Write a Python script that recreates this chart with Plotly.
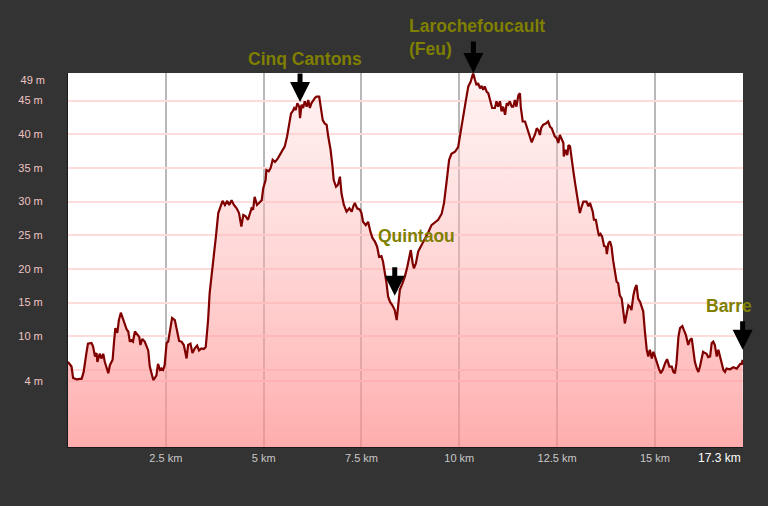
import plotly.graph_objects as go

dist_km = [0.00, 0.09, 0.13, 0.22, 0.35, 0.40, 0.47, 0.51, 0.60, 0.64, 0.69, 0.73, 0.75, 0.81, 0.86, 0.90, 0.94,
           1.03, 1.07, 1.14, 1.18, 1.21, 1.26, 1.30, 1.35, 1.41, 1.45, 1.50, 1.54, 1.58, 1.62, 1.66, 1.71, 1.77,
           1.82, 1.85, 1.90, 1.96, 2.01, 2.05, 2.09, 2.13, 2.18, 2.22, 2.26, 2.30, 2.35, 2.39, 2.43, 2.47, 2.52,
           2.56, 2.60, 2.66, 2.73, 2.79, 2.84, 2.90, 2.96, 3.03, 3.07, 3.13, 3.18, 3.24, 3.30, 3.35, 3.41, 3.47,
           3.52, 3.58, 3.62, 3.78, 3.84, 3.90, 3.95, 4.01, 4.07, 4.12, 4.18, 4.24, 4.31, 4.37, 4.43, 4.48, 4.54,
           4.60, 4.65, 4.69, 4.73, 4.77, 4.83, 4.88, 4.95, 4.99, 5.05, 5.07, 5.13, 5.18, 5.23, 5.29, 5.35, 5.41,
           5.48, 5.54, 5.60, 5.65, 5.70, 5.74, 5.78, 5.82, 5.86, 5.91, 5.93, 5.97, 6.01, 6.05, 6.10, 6.14, 6.18,
           6.22, 6.27, 6.31, 6.35, 6.42, 6.45, 6.51, 6.56, 6.61, 6.65, 6.71, 6.76, 6.79, 6.85, 6.90, 6.95, 6.99,
           7.05, 7.12, 7.19, 7.25, 7.29, 7.33, 7.39, 7.46, 7.50, 7.54, 7.61, 7.67, 7.73, 7.78, 7.84, 7.90, 7.95,
           8.01, 8.05, 8.10, 8.14, 8.18, 8.23, 8.29, 8.35, 8.40, 8.44, 8.48, 8.55, 8.61, 8.67, 8.72, 8.76, 8.81,
           8.84, 8.89, 8.95, 9.04, 9.12, 9.21, 9.29, 9.38, 9.46, 9.55, 9.61, 9.68, 9.74, 9.80, 9.89, 9.97, 10.03,
           10.10, 10.17, 10.23, 10.29, 10.34, 10.36, 10.40, 10.44, 10.48, 10.53, 10.57, 10.61, 10.65, 10.70,
           10.74, 10.78, 10.84, 10.91, 10.95, 10.99, 11.04, 11.08, 11.12, 11.17, 11.21, 11.25, 11.29, 11.34,
           11.38, 11.42, 11.46, 11.51, 11.55, 11.57, 11.62, 11.68, 11.72, 11.76, 11.81, 11.85, 11.89, 11.93,
           11.98, 12.02, 12.06, 12.09, 12.14, 12.21, 12.27, 12.32, 12.36, 12.40, 12.44, 12.49, 12.53, 12.57,
           12.61, 12.66, 12.67, 12.72, 12.76, 12.79, 12.83, 12.87, 12.91, 12.96, 13.00, 13.04, 13.08, 13.13,
           13.17, 13.25, 13.30, 13.34, 13.41, 13.44, 13.49, 13.53, 13.57, 13.61, 13.65, 13.70, 13.75, 13.77,
           13.81, 13.85, 13.89, 13.93, 13.98, 14.02, 14.06, 14.10, 14.15, 14.19, 14.23, 14.28, 14.32, 14.36,
           14.40, 14.45, 14.49, 14.53, 14.57, 14.62, 14.66, 14.70, 14.74, 14.79, 14.83, 14.87, 14.92, 14.96,
           15.00, 15.05, 15.10, 15.15, 15.20, 15.26, 15.31, 15.37, 15.43, 15.47, 15.51, 15.55, 15.60, 15.64,
           15.70, 15.74, 15.79, 15.85, 15.89, 15.94, 15.98, 16.02, 16.07, 16.11, 16.15, 16.19, 16.23, 16.28,
           16.32, 16.36, 16.41, 16.45, 16.49, 16.53, 16.58, 16.62, 16.66, 16.71, 16.75, 16.79, 16.83, 16.92,
           17.00, 17.09, 17.13, 17.18, 17.22, 17.24]

elev_m = [6.2, 5.5, 3.8, 3.6, 3.7, 4.7, 7.5, 8.9, 9.0, 8.5, 7.0, 7.5, 6.2, 7.4, 6.7, 7.4, 6.2,
          4.5, 5.7, 6.5, 9.4, 11.2, 10.5, 12.4, 13.5, 12.5, 11.9, 11.0, 10.7, 9.2, 9.4, 9.2, 10.7, 10.3,
          9.9, 8.7, 9.6, 9.2, 8.5, 7.9, 5.5, 4.6, 3.5, 3.8, 4.2, 5.9, 5.0, 5.2, 5.0, 5.7, 9.0,
          9.2, 10.8, 12.7, 12.4, 10.9, 9.3, 9.2, 8.7, 6.7, 8.7, 8.9, 7.5, 8.2, 8.6, 7.9, 8.2, 8.1,
          8.4, 12.4, 16.4, 24.8, 28.3, 29.3, 30.1, 29.5, 30.1, 29.5, 30.2, 29.5, 29.0, 28.3, 26.3, 28.0, 27.8,
          27.3, 28.3, 29.0, 28.8, 30.7, 29.5, 29.8, 30.2, 32.0, 33.2, 34.7, 34.5, 35.0, 36.2, 35.9, 36.3, 36.9,
          37.7, 38.2, 39.7, 41.6, 43.1, 43.4, 43.9, 43.6, 44.6, 44.1, 42.4, 44.4, 43.9, 44.9, 44.1, 45.1, 43.9,
          44.6, 45.1, 45.4, 45.6, 45.6, 44.4, 42.1, 41.6, 41.4, 39.7, 37.7, 35.2, 33.2, 32.2, 32.5, 33.7, 31.2,
          29.5, 28.5, 29.0, 28.5, 29.3, 29.8, 29.0, 28.8, 28.3, 27.0, 26.5, 27.0, 25.5, 24.6, 24.1, 23.3, 21.8,
          21.9, 21.1, 19.4, 17.9, 15.9, 15.1, 14.6, 13.9, 12.4, 14.9, 16.9, 17.9, 18.9, 20.3, 21.8, 22.8, 20.8,
          20.1, 20.8, 22.6, 23.6, 24.4, 25.5, 26.5, 27.0, 27.3, 28.2, 29.8, 33.2, 36.2, 37.1, 37.4, 38.1, 40.4,
          42.6, 45.1, 47.1, 47.8, 48.8, 49.0, 48.1, 47.3, 47.6, 46.8, 47.2, 46.6, 47.1, 46.3,
          46.1, 45.1, 43.9, 43.9, 44.9, 44.1, 44.9, 43.4, 44.1, 42.9, 44.6, 44.4, 44.9, 44.1,
          44.1, 45.1, 44.1, 45.8, 46.1, 44.1, 41.9, 41.9, 41.1, 40.6, 39.7, 38.8, 39.4, 39.9,
          40.9, 40.6, 39.9, 40.9, 41.4, 41.6, 41.9, 41.1, 40.9, 40.4, 39.7, 39.4, 38.7, 39.9,
          39.4, 38.7, 36.7, 37.7, 36.9, 38.4, 38.2, 36.2, 34.7, 32.7, 31.0, 29.8, 28.3, 29.3,
          30.0, 30.0, 29.3, 29.8, 28.5, 27.3, 27.3, 26.0, 24.9, 25.2, 24.8, 23.4, 23.3, 22.2,
          23.8, 24.1, 23.3, 21.3, 19.8, 18.1, 17.9, 16.1, 15.6, 13.9, 11.9, 13.4, 14.6, 14.4,
          13.9, 16.1, 17.1, 17.6, 15.6, 15.1, 14.2, 13.7, 10.9, 8.0, 7.0, 8.0, 6.7, 7.7,
          7.0, 6.0, 5.2, 4.5, 5.0, 6.0, 6.6, 5.5, 5.5, 4.7, 4.5, 6.0, 9.9, 11.2,
          11.5, 10.9, 10.2, 8.7, 9.4, 9.7, 8.0, 6.2, 5.2, 4.7, 5.5, 6.8, 7.7, 7.5,
          7.4, 6.9, 7.0, 9.0, 9.2, 8.7, 7.0, 8.0, 7.0, 6.2, 5.0, 4.7, 5.2, 5.1,
          5.4, 5.2, 5.5, 5.9, 5.9, 6.5]

# Axis ticks
y_tick_vals = [3.36, 5, 10, 15, 20, 25, 30, 35, 40, 45]
y_tick_text = ["4 m", "", "10 m", "15 m", "20 m", "25 m", "30 m", "35 m", "40 m", "45 m"]
y_top_val = [48.06]
y_top_text = ["49 m"]
x_tick_vals = [2.5, 5, 7.5, 10, 12.5, 15]
x_tick_text = ["2.5 km", "5 km", "7.5 km", "10 km", "12.5 km", "15 km"]
total_label = "17.3 km"

# Named points of interest (distance km, elevation m at arrow tip)
poi_names = ["Cinq Cantons", "Larochefoucault<br>(Feu)", "Quintaou", "Barre"]
poi_x = [5.93, 10.36, 8.35, 17.24]
poi_y = [44.8, 49.1, 16.0, 8.0]

X_RANGE = [0, 17.25]
Y_RANGE = [-6.45, 49.1]

fig = go.Figure()

# baseline for filling down to the axis bottom
fig.add_trace(go.Scatter(x=[X_RANGE[0], X_RANGE[1]], y=[Y_RANGE[0], Y_RANGE[0]],
                         mode="lines", line=dict(width=0), hoverinfo="skip", showlegend=False))
fig.add_trace(go.Scatter(
    x=dist_km, y=elev_m, mode="lines",
    line=dict(color="#800000", width=2.2),
    fill="tonexty",
    fillgradient=dict(type="vertical", start=Y_RANGE[0], stop=Y_RANGE[1],
                      colorscale=[[0, "rgba(255,140,140,0.72)"], [1, "rgba(255,210,210,0.3)"]]),
    showlegend=False,
))
# overlay axis carrying the top label
fig.add_trace(go.Scatter(x=[None], y=[None], yaxis="y2", showlegend=False))

label_font = dict(family="Liberation Sans, Arial, sans-serif", size=11)

fig.update_layout(
    width=768, height=506,
    margin=dict(l=68, r=25, t=73, b=59),
    paper_bgcolor="#333333",
    plot_bgcolor="#ffffff",
    xaxis=dict(range=X_RANGE, tickvals=x_tick_vals, ticktext=x_tick_text,
               showgrid=True, gridcolor="#b8b8b8", gridwidth=2, zeroline=False,
               showline=True, linecolor="#1a1a1a", linewidth=1,
               tickfont=dict(color="#c8c8c8", **label_font), ticks="", ticklabelstandoff=1),
    yaxis=dict(range=Y_RANGE, tickvals=y_tick_vals, ticktext=y_tick_text,
               showgrid=True, gridcolor="#ffdcdc", gridwidth=2, zeroline=False,
               showline=True, linecolor="#1a1a1a", linewidth=1,
               tickfont=dict(color="#f0c4c4", **label_font), ticks="", ticklabelstandoff=22),
    yaxis2=dict(range=Y_RANGE, overlaying="y", side="left", tickvals=y_top_val, ticktext=y_top_text,
                showgrid=False, zeroline=False, showline=False,
                tickfont=dict(color="#f0c4c4", **label_font), ticks="", ticklabelstandoff=22),
)

fig.add_annotation(xref="paper", yref="paper", x=1, y=0, xanchor="right", yanchor="top",
                   yshift=-2, text=total_label, showarrow=False,
                   font=dict(family="Liberation Sans, Arial, sans-serif", size=12, color="#ffffff"))

ann_font = dict(family="Liberation Sans, Arial, sans-serif", size=17.5, color="#7f7f00")
arrow_len = [30, 33, 30, 30]
text_pos = [  # (xshift, yshift, xanchor)
    (5, 43, "center"),
    (-66, 36, "left"),
    (22, 60, "center"),
    (-14, 44, "center"),
]
for name, px, py, alen, (xs, ys, xa) in zip(poi_names, poi_x, poi_y, arrow_len, text_pos):
    fig.add_annotation(x=px, y=py, ax=0, ay=-alen, text="", showarrow=True,
                       arrowhead=2, arrowsize=0.8, arrowwidth=5, arrowcolor="#000000")
    fig.add_annotation(x=px, y=py, text="<b>" + name + "</b>", showarrow=False,
                       xshift=xs, yshift=ys, xanchor=xa, align="left", font=ann_font)

fig.write_html("out.html", config={"displayModeBar": False},
               post_script="document.body.style.margin='0';document.body.style.background='#333333';")
